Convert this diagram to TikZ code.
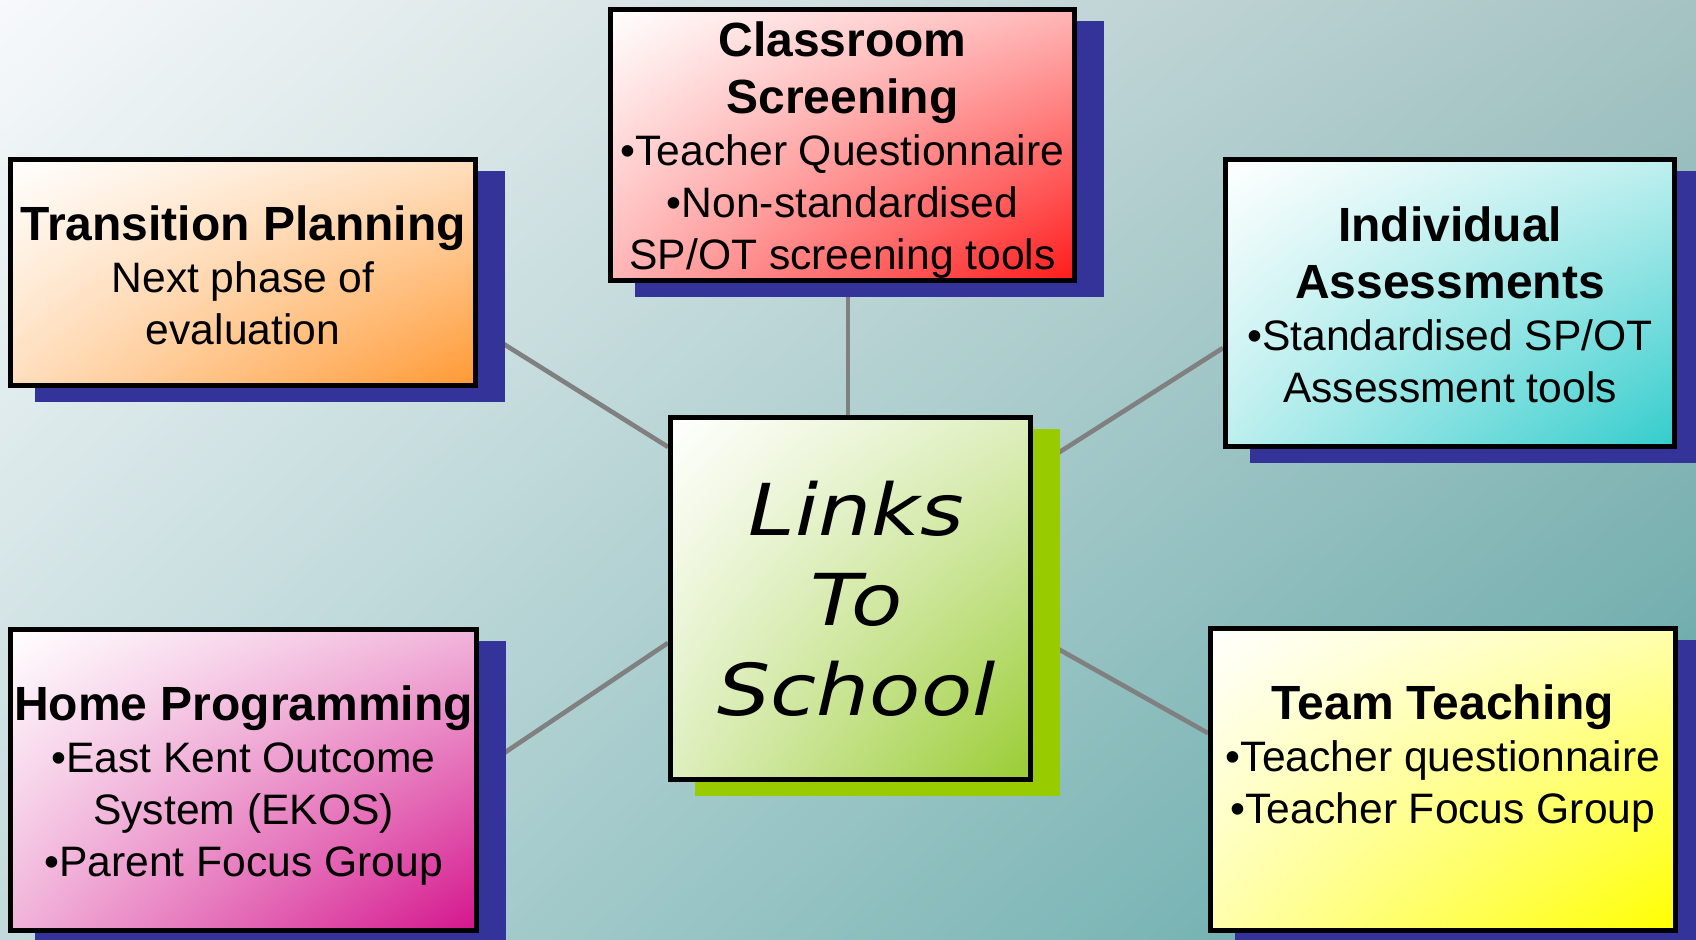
\documentclass[tikz,border=0pt]{standalone}
\usepackage{fontspec}
\setmainfont{Liberation Sans}
\newfontfamily\linksfont[FakeStretch=1.17]{DejaVu Sans}
\usetikzlibrary{calc,shadings}
\pgfdeclarelayer{bgl}
\pgfdeclarelayer{midl}
\pgfsetlayers{bgl,midl,main}
\definecolor{shblue}{HTML}{333399}
\definecolor{shgreen}{HTML}{99CC00}
\definecolor{linkgray}{HTML}{808080}
\definecolor{cOrange}{HTML}{FF9933}
\definecolor{cRed}{HTML}{FF1A1A}
\definecolor{cTeal}{HTML}{33CCCC}
\definecolor{cYellow}{HTML}{FFFF00}
\definecolor{cMagenta}{HTML}{D4148C}
\definecolor{cLime}{HTML}{99CC33}
\definecolor{bgUL}{HTML}{F7F9FB}
\definecolor{bgUR}{HTML}{A6C3C3}
\definecolor{bgLL}{HTML}{C2DADB}
\definecolor{bgLR}{HTML}{5AA4A4}
\newcommand\boxtitle[1]{{\bfseries\fontsize{24}{26}\selectfont #1}}
\newcommand\dropshade[2]{\fill[#2] ([shift={(13.5pt,-7pt)}]#1.north west) rectangle ([shift={(13.5pt,-7pt)}]#1.south east);}
\tikzset{
  box/.style={draw=black, line width=2.5pt, inner sep=0pt},
  grad/.style={upper left=white, lower right=#1, upper right=#1!32!white,
    lower left=#1!32!white},
  txt/.style={align=center, inner sep=0pt, font=\fontsize{21.3}{26}\selectfont},
  link/.style={draw=linkgray, line width=2.3pt},
}
\begin{document}
\begin{tikzpicture}[x=0.5pt,y=0.5pt]
\useasboundingbox (0,0) rectangle (1696,940);
% boxes
\node[box, grad=cOrange, minimum width=232.5pt, minimum height=113pt] (tp) at (243,667.5) {};
\node[txt] (tptext) at ([yshift=-1.4pt]tp.center)
  {\boxtitle{Transition Planning}\\Next phase of\\evaluation};
\node[box, grad=cRed, minimum width=232pt, minimum height=135.5pt] (cs) at (842.5,795) {};
\node[txt] (cstext) at ([yshift=-2.7pt]cs.center)
  {\boxtitle{Classroom}\\[2.5pt]\boxtitle{Screening}\\\textbullet Teacher Questionnaire\\\textbullet Non-standardised\\SP/OT screening tools};
\node[box, grad=cTeal, minimum width=224.5pt, minimum height=143.5pt] (ia) at (1450,637) {};
\node[txt] (iatext) at ([yshift=-1pt]ia.center)
  {\boxtitle{Individual}\\[2.5pt]\boxtitle{Assessments}\\\textbullet Standardised SP/OT\\Assessment tools};
\node[box, grad=cYellow, minimum width=232.5pt, minimum height=151pt] (tt) at (1443,160.5) {};
\node[txt] (tttext) at ([yshift=10.3pt]tt.center)
  {\boxtitle{Team Teaching}\\\textbullet Teacher questionnaire\\\textbullet Teacher Focus Group};
\node[box, grad=cMagenta, minimum width=233pt, minimum height=150.5pt] (hp) at (243.5,160) {};
\node[txt] (hptext) at ([yshift=-3pt]hp.center)
  {\boxtitle{Home Programming}\\\textbullet East Kent Outcome\\System (EKOS)\\\textbullet Parent Focus Group};
\node[box, grad=cLime, minimum width=180pt, minimum height=181pt] (ctr) at (850.5,341.5) {};
\node[align=center, inner sep=0pt, font=\linksfont\itshape\fontsize{35.8}{45}\selectfont]
  (ctrtext) at ([xshift=3pt]ctr.center) {Links\\To\\School};
% background
\begin{pgfonlayer}{bgl}
\shade[upper left=bgUL, upper right=bgUR, lower left=bgLL, lower right=bgLR] (0,0) rectangle (1696,940);
\end{pgfonlayer}
% connectors and shadows
\begin{pgfonlayer}{midl}
\draw[link] ($(tp.north east)!0.74!(tp.south east)$) -- ($(ctr.north west)!0.087!(ctr.south west)$);
\draw[link] ($(hp.north east)!0.467!(hp.south east)$) -- ($(ctr.north west)!0.621!(ctr.south west)$);
\draw[link] ($(ctr.north east)!0.147!(ctr.south east)$) -- ($(ia.north west)!0.654!(ia.south west)$);
\draw[link] ($(ctr.north east)!0.599!(ctr.south east)$) -- ($(tt.north west)!0.349!(tt.south west)$);
\draw[link] ($(cs.south west)!0.512!(cs.south east)$) coordinate (csb) -- (csb |- ctr.north);
\dropshade{tp}{shblue}
\dropshade{cs}{shblue}
\dropshade{ia}{shblue}
\dropshade{tt}{shblue}
\dropshade{hp}{shblue}
\dropshade{ctr}{shgreen}
\end{pgfonlayer}
\end{tikzpicture}
\end{document}
